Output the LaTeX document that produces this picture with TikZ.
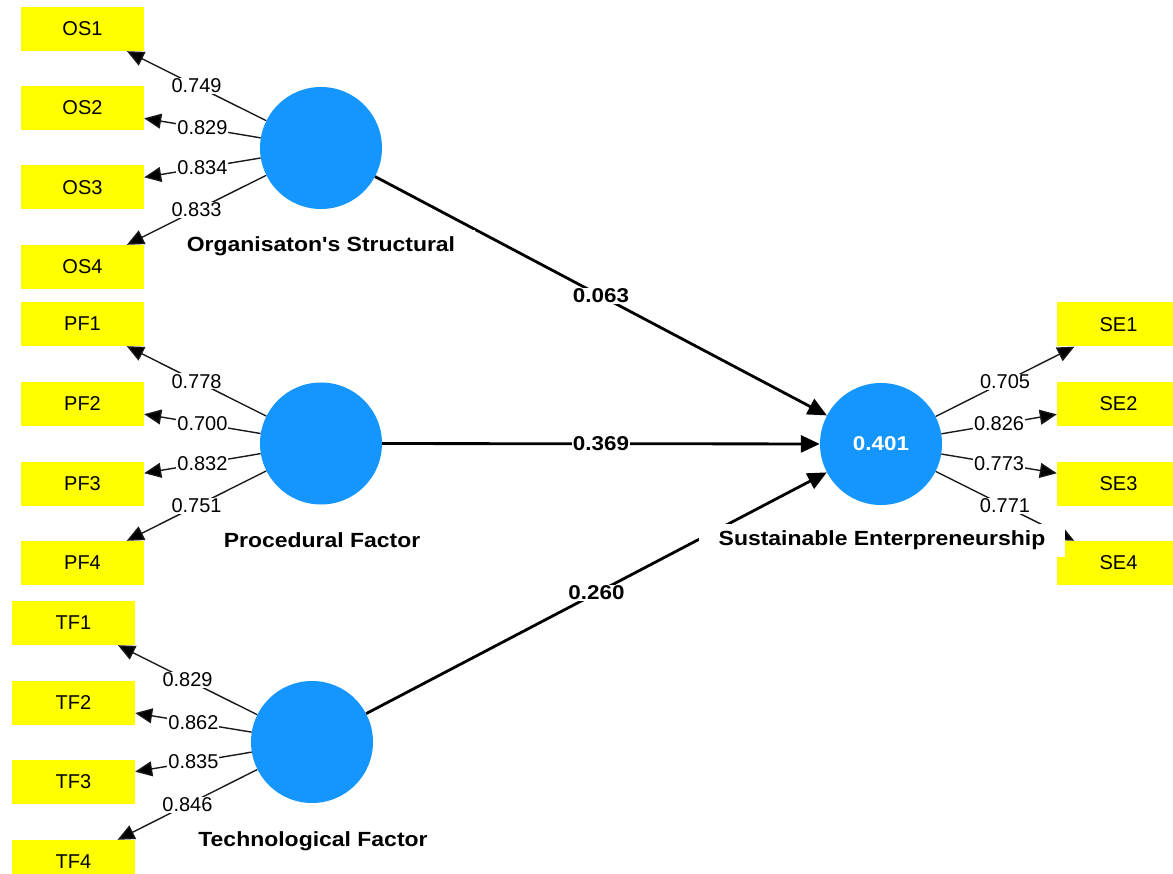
\documentclass[tikz,border=0pt]{standalone}
\usepackage{fontspec}
\setmainfont{Liberation Sans}
\newfontfamily\widebold[FakeStretch=1.12]{Liberation Sans}
\usetikzlibrary{arrows.meta}
\definecolor{lvblue}{RGB}{21,150,255}
\definecolor{mvyellow}{RGB}{255,255,0}
\begin{document}
\begin{tikzpicture}[x=1pt,y=-1pt,
  ind/.style={fill=mvyellow, minimum width=123pt, minimum height=44pt, inner sep=0pt, font=\fontsize{20}{24}\selectfont},
  lv/.style={circle, fill=lvblue, minimum size=122pt, inner sep=0pt},
  load/.style={draw=black!90, line width=1.4pt, -{Triangle[length=17pt,width=15pt,fill=black]}},
  struct/.style={draw=black, line width=2.8pt, -{Triangle[length=19pt,width=17pt]}},
  lbl/.style={fill=white, inner sep=1pt, font=\fontsize{20}{24}\selectfont},
  blbl/.style={fill=white, inner sep=1pt, font=\widebold\bfseries\fontsize{20}{24}\selectfont},
  lvname/.style={fill=white, inner xsep=20pt, inner ysep=7.25pt, text height=14.8pt, text depth=4pt, font=\widebold\bfseries\fontsize{20.5}{24}\selectfont}]
\useasboundingbox (0,0) rectangle (1173,874);
\clip (0,0) rectangle (1173,874);
\fill[white] (0,0) rectangle (1173,874);
% indicators
\node[ind] (OS1) at (82.5,29) {OS1};
\node[ind] (OS2) at (82.5,108) {OS2};
\node[ind] (OS3) at (82.5,187.5) {OS3};
\node[ind] (OS4) at (82.5,267) {OS4};
\node[ind] (PF1) at (82.5,324) {PF1};
\node[ind] (PF2) at (82.5,404) {PF2};
\node[ind] (PF3) at (82.5,483.5) {PF3};
\node[ind] (PF4) at (82.5,563) {PF4};
\node[ind] (TF1) at (73.5,623) {TF1};
\node[ind] (TF2) at (73.5,703) {TF2};
\node[ind] (TF3) at (73.5,782) {TF3};
\node[ind] (TF4) at (73.5,862) {TF4};
\node[ind] (SE1) at (1118.5,324.5) {SE1};
\node[ind] (SE2) at (1118.5,404) {SE2};
\node[ind] (SE3) at (1118.5,483.5) {SE3};
\node[ind] (SE4) at (1118.5,563) {SE4};
% latent variables
\node[lv] (OS) at (321,148) {};
\node[lv] (PF) at (321,443.5) {};
\node[lv] (TF) at (312,742) {};
\node[lv, text=white, font=\widebold\bfseries\fontsize{20}{24}\selectfont] (SE) at (881,444) {0.401};
% loadings
\draw[load] (OS) -- node[lbl]{0.749} (OS1);
\draw[load] (OS) -- node[lbl]{0.829} (OS2);
\draw[load] (OS) -- node[lbl]{0.834} (OS3);
\draw[load] (OS) -- node[lbl]{0.833} (OS4);
\draw[load] (PF) -- node[lbl]{0.778} (PF1);
\draw[load] (PF) -- node[lbl]{0.700} (PF2);
\draw[load] (PF) -- node[lbl]{0.832} (PF3);
\draw[load] (PF) -- node[lbl]{0.751} (PF4);
\draw[load] (TF) -- node[lbl]{0.829} (TF1);
\draw[load] (TF) -- node[lbl]{0.862} (TF2);
\draw[load] (TF) -- node[lbl]{0.835} (TF3);
\draw[load] (TF) -- node[lbl]{0.846} (TF4);
\draw[load] (SE) -- node[lbl]{0.705} (SE1);
\draw[load] (SE) -- node[lbl]{0.826} (SE2);
\draw[load] (SE) -- node[lbl]{0.773} (SE3);
\draw[load] (SE) -- node[lbl]{0.771} (SE4);
% structural paths
\draw[struct] (OS) -- node[blbl]{0.063} (SE);
\draw[struct] (PF) -- node[blbl]{0.369} (SE);
\draw[struct] (TF) -- node[blbl]{0.260} (SE);
% names
\node[lvname] (OSn) at (321,246.4) {Organisaton{\char"27}s Structural};
\node[lvname] (PFn) at (322,541.9) {Procedural Factor};
\node[lvname] (TFn) at (313,840.9) {Technological Factor};
\node[lvname] (SEn) at (882,540.4) {Sustainable Enterpreneurship};
\end{tikzpicture}
\end{document}
